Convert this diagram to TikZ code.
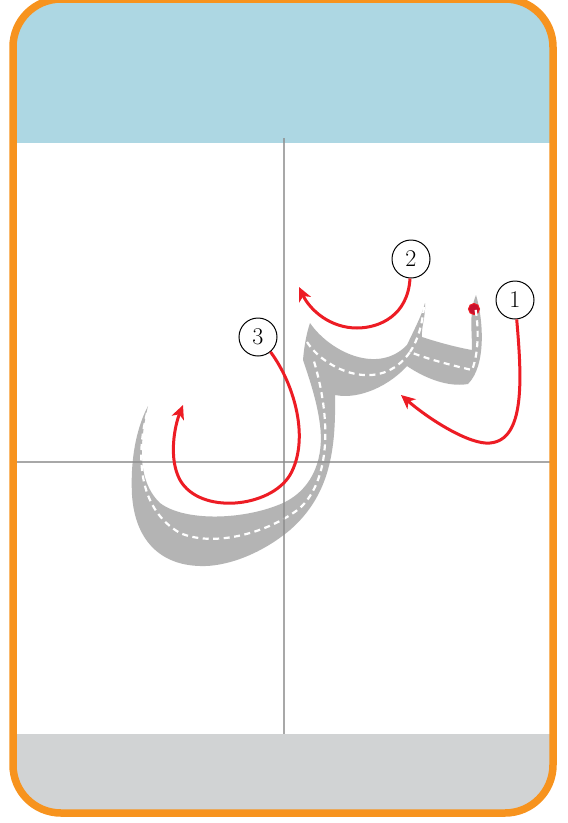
\documentclass[tikz,border=0pt]{standalone}
\usetikzlibrary{arrows.meta}
\definecolor{frameorange}{HTML}{F7931E}
\definecolor{headblue}{HTML}{ADD7E3}
\definecolor{footgray}{HTML}{D1D3D4}
\definecolor{lettergray}{HTML}{B4B4B4}
\definecolor{gridgray}{HTML}{8C8C8C}
\definecolor{strokered}{HTML}{ED1C24}
\definecolor{dotred}{HTML}{C8102E}
\tikzset{
  gridline/.style={gridgray, line width=1.4pt, opacity=0.75},
  redarrow/.style={strokered, line width=3pt, -{Stealth[length=14pt,width=13pt,inset=4pt]}},
  numcircle/.style={circle, draw=black, line width=1pt, fill=white, minimum size=38pt, inner sep=0pt, font=\fontsize{24}{24}\selectfont},
  guide/.style={white, line width=2.2pt, dash pattern=on 6pt off 4.5pt},
}
\begin{document}
\begin{tikzpicture}[x=1pt,y=-1pt]
\useasboundingbox (0,0) rectangle (568,823);
% card background
\begin{scope}
  \clip[rounded corners=46pt] (13,-1) rectangle (553,813);
  \fill[white] (0,-2) rectangle (568,823);
  \fill[headblue] (0,-2) rectangle (568,143);
  \fill[footgray] (0,734) rectangle (568,823);
\end{scope}
% letter shape
\fill[lettergray]
  (476,295) .. controls (483,318) and (487,365) .. (468,384)
  .. controls (445,388) and (420,375) .. (407,366)
  .. controls (390,385) and (360,400) .. (335,395)
  .. controls (336,450) and (330,495) .. (290,530)
  .. controls (260,555) and (225,567) .. (200,566)
  .. controls (160,565) and (135,540) .. (132,495)
  .. controls (130,455) and (138,425) .. (148,406)
  .. controls (140,440) and (136,480) .. (160,503)
  .. controls (185,522) and (245,520) .. (283,503)
  .. controls (315,488) and (324,455) .. (320,425)
  .. controls (317,400) and (308,375) .. (303,360)
  .. controls (304,348) and (306,335) .. (310,323)
  .. controls (330,352) and (378,375) .. (407,345)
  .. controls (414,330) and (422,315) .. (425,303)
  .. controls (426,315) and (421,328) .. (422,337)
  .. controls (440,343) and (460,348) .. (472,350)
  .. controls (472,330) and (469,312) .. (476,295)
  -- cycle;
% start dot
\node[circle, fill=dotred, draw=strokered, line width=1pt, minimum size=11pt, inner sep=0pt] (dot) at (474,309) {};
% dashed guides
\draw[guide] (147,413) .. controls (135,460) and (140,510) .. (180,533)
  .. controls (215,548) and (270,532) .. (300,508)
  .. controls (330,480) and (332,420) .. (313,358);
\draw[guide] (307,342) .. controls (325,370) and (380,395) .. (410,352)
  .. controls (430,360) and (455,366) .. (472,370)
  .. controls (480,350) and (478,320) .. (475,307);
\draw[guide] (424,307) .. controls (422,325) and (418,340) .. (410,352);
% grid lines
\draw[gridline] (284,138) -- (284,734);
\draw[gridline] (16,462) -- (550,462);
% frame
\draw[frameorange, line width=7.5pt, rounded corners=48pt] (13,-1) rectangle (553,813);
% numbered circles
\node[numcircle] (c1) at (515,300) {1};
\node[numcircle] (c2) at (411,259) {2};
\node[numcircle] (c3) at (258,337) {3};
% free ends of arrows
\coordinate (e1) at (401,395);
\coordinate (e2) at (299,287);
\coordinate (e3) at (183,405);
% arrows
\draw[redarrow] (c1.-85) .. controls (522,380) and (525,440) .. (490,443)
  .. controls (470,445) and (430,420) .. (e1);
\draw[redarrow] (c2.-93) .. controls (408,315) and (380,328) .. (357,328)
  .. controls (330,328) and (310,310) .. (e2);
\draw[redarrow] (c3.-50) .. controls (295,385) and (310,440) .. (290,475)
  .. controls (270,508) and (200,515) .. (180,480)
  .. controls (168,458) and (175,425) .. (e3);
\end{tikzpicture}
\end{document}
